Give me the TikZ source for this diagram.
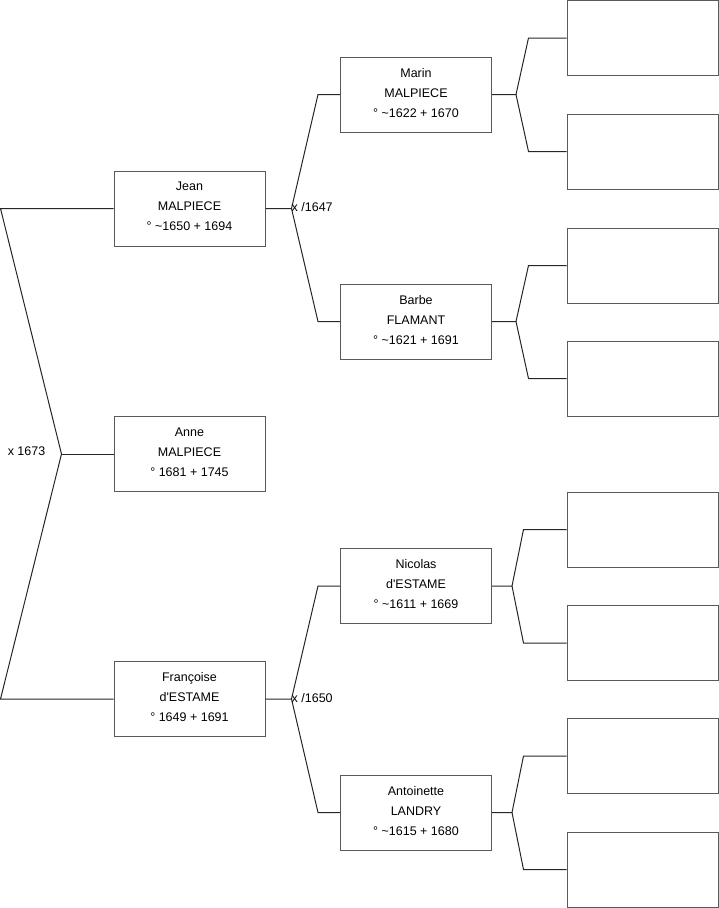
\documentclass[tikz,border=0pt]{standalone}
\usepackage{fontspec}
\setmainfont{Liberation Sans}
\tikzset{
  person/.style={draw=black!65,line width=1pt,minimum width=151pt,minimum height=75pt,
    inner sep=0pt,text depth=4pt,align=center,font=\fontsize{12.5}{20}\selectfont},
  link/.style={draw=black!85,line width=1pt},
  wed/.style={inner sep=0pt,font=\fontsize{12.5}{15}\selectfont}}
% parent, upper, lower, junction offset, corner offset
\newcommand\fork[5]{%
  \draw[link] (#1.east) -- ++(#4,0) coordinate (#1-j)
    -- ([xshift=-#5]#2.west) -- (#2.west);
  \draw[link] (#1-j) -- ([xshift=-#5]#3.west) -- (#3.west);}

\begin{document}
\begin{tikzpicture}[x=1pt,y=-1pt]
\useasboundingbox (0,0) rectangle (719,908);
% ---------- generation 1 and 2 ----------
\node[person] (jean) at (189.5,208.5) {Jean\\MALPIECE\\° \textasciitilde1650 + 1694};
\node[person] (anne) at (189.5,454) {Anne\\MALPIECE\\° 1681 + 1745};
\node[person] (fran) at (189.5,699) {Françoise\\d\textquotesingle ESTAME\\° 1649 + 1691};
% ---------- generation 3 ----------
\node[person] (marin) at (416,94.5) {Marin\\MALPIECE\\° \textasciitilde1622 + 1670};
\node[person] (barbe) at (416,321.5) {Barbe\\FLAMANT\\° \textasciitilde1621 + 1691};
\node[person] (nicolas) at (416,586) {Nicolas\\d\textquotesingle ESTAME\\° \textasciitilde1611 + 1669};
\node[person] (antoinette) at (416,812.5) {Antoinette\\LANDRY\\° \textasciitilde1615 + 1680};
% ---------- empty boxes ----------
\foreach \y [count=\i] in {38,151.5,265.5,378.5,529.5,643,756,869.5}
  \node[person] (e\i) at (642.5,\y) {};
% ---------- connectors ----------
\draw[link] (jean.west) -- ++(-113,0) coordinate (l1)
  -- ([xshift=-52]anne.west) coordinate (m0) -- (l1 |- fran.west) -- (fran.west);
\draw[link] (m0) -- (anne.west);
\node[wed,anchor=east] (w0) at ([shift={(-16,-3)}]m0) {x 1673};
\fork{jean}{marin}{barbe}{26}{22}
\fork{fran}{nicolas}{antoinette}{26}{22}
\node[wed,anchor=west] (w1) at ([shift={(0,-1)}]jean-j) {x /1647};
\node[wed,anchor=west] (w2) at ([shift={(0,-1)}]fran-j) {x /1650};
\fork{marin}{e1}{e2}{24}{38}
\fork{barbe}{e3}{e4}{24}{38}
\fork{nicolas}{e5}{e6}{20}{43}
\fork{antoinette}{e7}{e8}{20}{43}
\end{tikzpicture}
\end{document}
